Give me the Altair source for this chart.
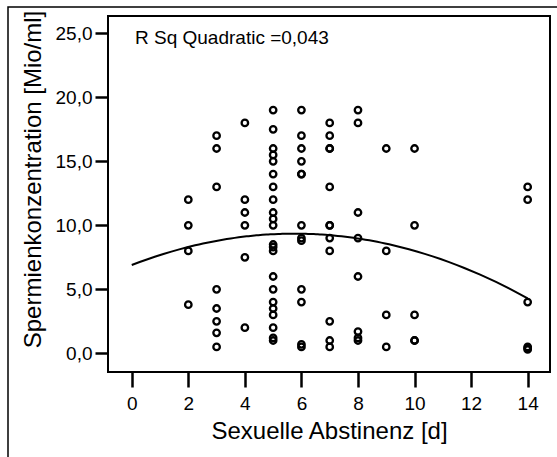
import altair as alt
import pandas as pd

# Abstinence days and the sperm concentrations observed at each
abstinence_2 = [12, 10, 8, 3.8]
abstinence_3 = [17, 16, 13, 5, 3.5, 2.5, 1.6, 0.5]
abstinence_4 = [18, 12, 11, 10, 7.5, 2]
abstinence_5 = [19, 17.5, 16, 15.5, 15, 14, 13, 12, 11, 10.5, 10, 8.5, 8.3, 8,
                6, 5, 4, 3.5, 3, 2, 1.2, 1]
abstinence_6 = [19, 17, 16, 15, 14, 14, 10, 9, 8.8, 5, 4, 0.7, 0.5]
abstinence_7 = [18, 17, 16, 16, 13, 10, 10, 9, 8, 2.5, 1, 0.5]
abstinence_8 = [19, 18, 11, 9, 6, 1.7, 1.2, 1]
abstinence_9 = [16, 8, 3, 0.5]
abstinence_10 = [16, 10, 3, 1, 1]
abstinence_14 = [13, 12, 4, 0.5, 0.4, 0.3]

groups = {
    2: abstinence_2, 3: abstinence_3, 4: abstinence_4, 5: abstinence_5,
    6: abstinence_6, 7: abstinence_7, 8: abstinence_8, 9: abstinence_9,
    10: abstinence_10, 14: abstinence_14,
}

x_ticks = [0, 2, 4, 6, 8, 10, 12, 14]
y_ticks = [0, 5, 10, 15, 20, 25]
r_sq_label = "R Sq Quadratic =0,043"
x_title = "Sexuelle Abstinenz [d]"
y_title = "Spermienkonzentration [Mio/ml]"

rows = [{"days": d, "conc": v} for d, vals in groups.items() for v in vals]
df = pd.DataFrame(rows)

FONT = "Liberation Sans"
W, H = 442, 356

x_scale = alt.Scale(domain=[-0.84, 14.79], nice=False, zero=False)
y_scale = alt.Scale(domain=[-1.46, 26.35], nice=False, zero=False)

x_axis = alt.Axis(
    values=x_ticks, title=x_title, grid=False, domain=False,
    tickSize=15, tickWidth=2.5, tickColor="black",
    labelFontSize=19, labelFont=FONT, labelColor="black", labelPadding=7,
    titleFontSize=24, titleFont=FONT, titleFontWeight="normal", titleColor="black",
    titleY=59, titleBaseline="middle",
)
y_axis = alt.Axis(
    values=y_ticks, title=y_title, grid=False, domain=False,
    tickSize=13, tickWidth=2.5, tickColor="black",
    labelFontSize=19, labelFont=FONT, labelColor="black", labelPadding=3,
    labelExpr="replace(format(datum.value, '.1f'), '.', ',')",
    titleFontSize=24, titleFont=FONT, titleFontWeight="normal", titleColor="black",
    titleAngle=-90, titleX=-75, titleY=163, titleAlign="center", titleBaseline="middle",
)

base = alt.Chart(df)

points = base.mark_point(
    shape="circle", filled=False, size=42, strokeWidth=2.3, color="black", opacity=1
).encode(
    x=alt.X("days:Q", scale=x_scale, axis=x_axis),
    y=alt.Y("conc:Q", scale=y_scale, axis=y_axis),
)

# quadratic least-squares fit drawn across the full 0-14 day range
fit = base.transform_regression(
    "days", "conc", method="poly", order=2, extent=[0, 14]
).mark_line(color="black", strokeWidth=2).encode(
    x=alt.X("days:Q", scale=x_scale),
    y=alt.Y("conc:Q", scale=y_scale),
)

one = alt.Chart(pd.DataFrame({"k": [0]}))

r_sq = one.mark_text(
    text=r_sq_label, align="left", baseline="middle",
    font=FONT, fontSize=19, color="black",
).encode(x=alt.value(27), y=alt.value(22))

outer = one.mark_rect(
    fill=None, stroke="black", strokeWidth=1.5
).encode(
    x=alt.value(-100), x2=alt.value(460),
    y=alt.value(-9), y2=alt.value(460),
)

chart = alt.layer(outer, points, fit, r_sq).properties(
    width=W, height=H,
    autosize=alt.AutoSizeParams(type="none"),
    padding={"left": 108, "top": 16, "right": 7, "bottom": 85},
    background="white",
).configure_view(
    stroke="black", strokeWidth=2
)

chart.save("out.html", embed_options={"renderer": "svg", "actions": False})
